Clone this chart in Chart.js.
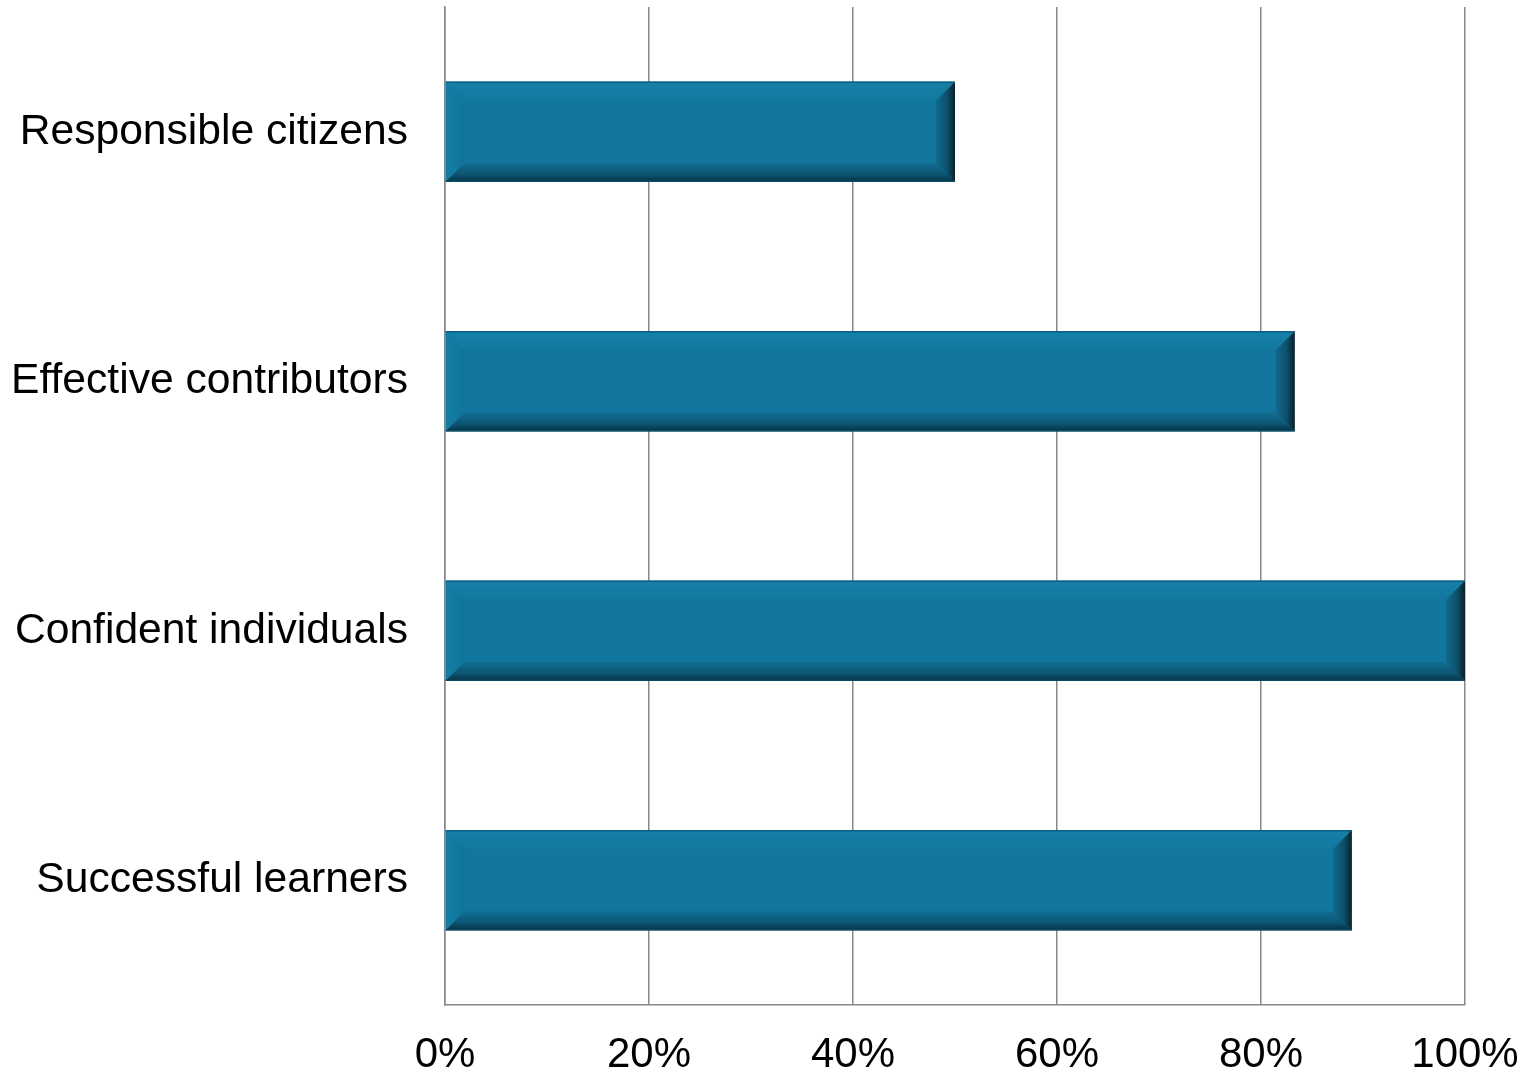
<!DOCTYPE html>
<html>
<head>
<meta charset="utf-8">
<script src="https://cdn.jsdelivr.net/npm/chart.js@4/dist/chart.umd.min.js"></script>
<style>
  html, body { margin: 0; padding: 0; background: #fff; }
  #wrap { width: 1531px; height: 1076px; }
</style>
</head>
<body>
<div id="wrap"><canvas id="chart"></canvas></div>
<script>
var categories = ['Responsible citizens', 'Effective contributors', 'Confident individuals', 'Successful learners'];
var values = [50, 83.3, 100, 88.9];
var tickValues = [0, 20, 40, 60, 80, 100];

// bevelled look of the bars, drawn on top of the library's own bar rectangles
var bevelPlugin = {
    id: 'bevel',
    afterDatasetsDraw: function (chart) {
        var ctx = chart.ctx;
        var meta = chart.getDatasetMeta(0);
        meta.data.forEach(function (bar) {
            var p = bar.getProps(['x', 'y', 'base', 'height'], true);
            var l = Math.min(p.base, p.x), r = Math.max(p.base, p.x);
            var t = p.y - p.height / 2, bt = p.y + p.height / 2;
            var b = 19;
            var g;
            ctx.save();
            // top
            g = ctx.createLinearGradient(0, t, 0, t + b);
            g.addColorStop(0, '#1680a8'); g.addColorStop(1, '#12789f');
            ctx.fillStyle = g;
            ctx.beginPath(); ctx.moveTo(l, t); ctx.lineTo(r, t); ctx.lineTo(r - b, t + b); ctx.lineTo(l + b, t + b); ctx.closePath(); ctx.fill();
            // left
            g = ctx.createLinearGradient(l, 0, l + b, 0);
            g.addColorStop(0, '#137ea6'); g.addColorStop(1, '#11749a');
            ctx.fillStyle = g;
            ctx.beginPath(); ctx.moveTo(l, t); ctx.lineTo(l + b, t + b); ctx.lineTo(l + b, bt - b); ctx.lineTo(l, bt); ctx.closePath(); ctx.fill();
            // bottom
            g = ctx.createLinearGradient(0, bt - b, 0, bt);
            g.addColorStop(0, '#116f94'); g.addColorStop(0.6, '#0c5674'); g.addColorStop(1, '#073345');
            ctx.fillStyle = g;
            ctx.beginPath(); ctx.moveTo(l, bt); ctx.lineTo(r, bt); ctx.lineTo(r - b, bt - b); ctx.lineTo(l + b, bt - b); ctx.closePath(); ctx.fill();
            // right
            g = ctx.createLinearGradient(r - b, 0, r, 0);
            g.addColorStop(0, '#106b8f'); g.addColorStop(0.6, '#0b4f6a'); g.addColorStop(1, '#05222e');
            ctx.fillStyle = g;
            ctx.beginPath(); ctx.moveTo(r, t); ctx.lineTo(r, bt); ctx.lineTo(r - b, bt - b); ctx.lineTo(r - b, t + b); ctx.closePath(); ctx.fill();
            // thin edge lines
            ctx.strokeStyle = '#0b5f80';
            ctx.lineWidth = 1.5;
            ctx.beginPath(); ctx.moveTo(l, t + 0.5); ctx.lineTo(r, t + 0.5); ctx.stroke();
            ctx.strokeStyle = '#0a4a63';
            ctx.beginPath(); ctx.moveTo(l, bt - 0.5); ctx.lineTo(r, bt - 0.5); ctx.stroke();
            ctx.restore();
        });
    }
};

var ctx = document.getElementById('chart').getContext('2d');
new Chart(ctx, {
    type: 'bar',
    data: {
        labels: categories,
        datasets: [{
            data: values,
            backgroundColor: '#12779e',
            borderWidth: 0,
            barPercentage: 1,
            categoryPercentage: 0.4
        }]
    },
    options: {
        indexAxis: 'y',
        responsive: true,
        maintainAspectRatio: false,
        animation: false,
        layout: { padding: { top: 7, right: 66, bottom: 0, left: 0 } },
        plugins: {
            legend: { display: false },
            tooltip: { enabled: false }
        },
        scales: {
            x: {
                min: 0,
                max: 100,
                afterBuildTicks: function (axis) {
                    axis.ticks = tickValues.map(function (v) { return { value: v }; });
                },
                afterFit: function (axis) {
                    axis.height = 71;
                    axis.paddingLeft = 0;
                    axis.paddingRight = 0;
                },
                grid: { color: '#888888', lineWidth: 1.5, drawTicks: false },
                border: { color: '#888888', width: 1.5 },
                ticks: {
                    padding: 25,
                    color: '#000',
                    font: { family: 'Liberation Sans, Arial, sans-serif', size: 42 },
                    maxRotation: 0,
                    callback: function (v) { return v + '%'; }
                }
            },
            y: {
                afterFit: function (axis) {
                    axis.width = 445;
                    axis.paddingTop = 0;
                    axis.paddingBottom = 0;
                },
                grid: { display: false },
                border: { color: '#888888', width: 1.5 },
                ticks: {
                    padding: 29,
                    color: '#000',
                    font: { family: 'Liberation Sans, Arial, sans-serif', size: 42.6 }
                }
            }
        }
    },
    plugins: [bevelPlugin]
});
</script>
</body>
</html>
